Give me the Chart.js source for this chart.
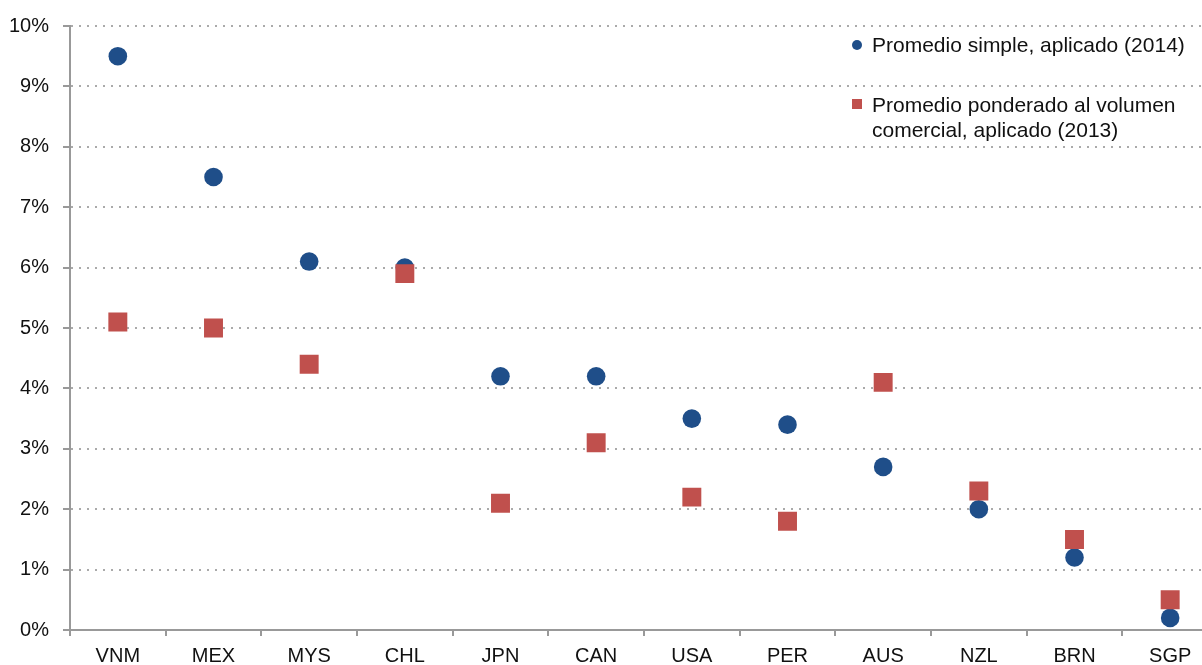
<!DOCTYPE html>
<html lang="es">
<head>
    <meta charset="UTF-8">
    <title>Aranceles promedio</title>
    <style>
        body { margin: 0; background: #fff; overflow: hidden; }
        .wrap { position: relative; width: 1202px; height: 665px; overflow: hidden; }
        .legend { position: absolute; left: 850px; top: 32px; font: 21px "Liberation Sans", Arial, Helvetica, sans-serif; color: #111; line-height: 25px; }
        .legend .item { position: relative; padding-left: 22px; }
        .legend .dot { position: absolute; left: 2px; top: 8px; width: 10px; height: 10px; border-radius: 50%; background: #1F4E89; }
        .legend .sq { position: absolute; left: 2px; top: 7px; width: 10px; height: 10px; background: #C0504D; }
    </style>
</head>
<body>
    <div class="wrap">
        <!-- the plot runs a little past the right edge of the picture, as in the original -->
        <canvas id="myChart" width="1218" height="665"></canvas>
        <div class="legend">
            <div class="item"><span class="dot"></span>Promedio simple, aplicado (2014)</div>
            <div class="item" style="margin-top: 35px;"><span class="sq"></span>Promedio ponderado al volumen<br>comercial, aplicado (2013)</div>
        </div>
    </div>

    <script src="https://cdn.jsdelivr.net/npm/chart.js@4.4.0/dist/chart.umd.min.js"></script>
    <script>
        // paises del TPP
        var countries = ['VNM', 'MEX', 'MYS', 'CHL', 'JPN', 'CAN', 'USA', 'PER', 'AUS', 'NZL', 'BRN', 'SGP'];
        // promedio simple, aplicado (2014), en %
        var simpleAvg = [9.5, 7.5, 6.1, 6.0, 4.2, 4.2, 3.5, 3.4, 2.7, 2.0, 1.2, 0.2];
        // promedio ponderado al volumen comercial, aplicado (2013), en %
        var weightedAvg = [5.1, 5.0, 4.4, 5.9, 2.1, 3.1, 2.2, 1.8, 4.1, 2.3, 1.5, 0.5];
        var yTicks = [0, 1, 2, 3, 4, 5, 6, 7, 8, 9, 10];

        var font = { family: '"Liberation Sans", Arial, Helvetica, sans-serif', size: 20 };

        var ctx = document.getElementById('myChart').getContext('2d');
        var myChart = new Chart(ctx, {
            type: 'line',
            data: {
                labels: countries,
                datasets: [
                    {
                        label: 'Promedio simple, aplicado (2014)',
                        data: simpleAvg,
                        showLine: false,
                        pointStyle: 'circle',
                        pointRadius: 9.3,
                        pointBorderWidth: 0,
                        pointBackgroundColor: '#1F4E89',
                        order: 2
                    },
                    {
                        label: 'Promedio ponderado al volumen comercial, aplicado (2013)',
                        data: weightedAvg,
                        showLine: false,
                        pointStyle: 'rect',
                        pointRadius: 13.4,
                        pointBorderWidth: 0,
                        pointBackgroundColor: '#C0504D',
                        order: 1
                    }
                ]
            },
            options: {
                responsive: false,
                animation: false,
                layout: { autoPadding: false, padding: { top: 24, right: 0, bottom: 0, left: 0 } },
                plugins: { legend: { display: false }, tooltip: { enabled: false } },
                scales: {
                    x: {
                        offset: true,
                        grid: { offset: true, drawOnChartArea: false, tickLength: 6, color: '#999', lineWidth: 2 },
                        border: { color: '#999', width: 2 },
                        ticks: { color: '#111', font: font, padding: 8, maxRotation: 0 },
                        afterFit: function (scale) {
                            scale.height = 35;
                            scale.paddingLeft = 0;
                            scale.paddingRight = 0;
                        }
                    },
                    y: {
                        min: 0,
                        max: 10,
                        afterBuildTicks: function (scale) {
                            scale.ticks = yTicks.map(function (v) { return { value: v }; });
                        },
                        grid: { color: '#aaa', lineWidth: 2, tickLength: 7, tickColor: '#999', tickBorderDash: [] },
                        border: { color: '#999', width: 2, dash: [2, 6] },
                        ticks: {
                            color: '#111',
                            font: font,
                            padding: 14,
                            callback: function (v) { return v + '%'; }
                        },
                        afterFit: function (scale) { scale.width = 70; }
                    }
                }
            }
        });
    </script>
</body>
</html>
